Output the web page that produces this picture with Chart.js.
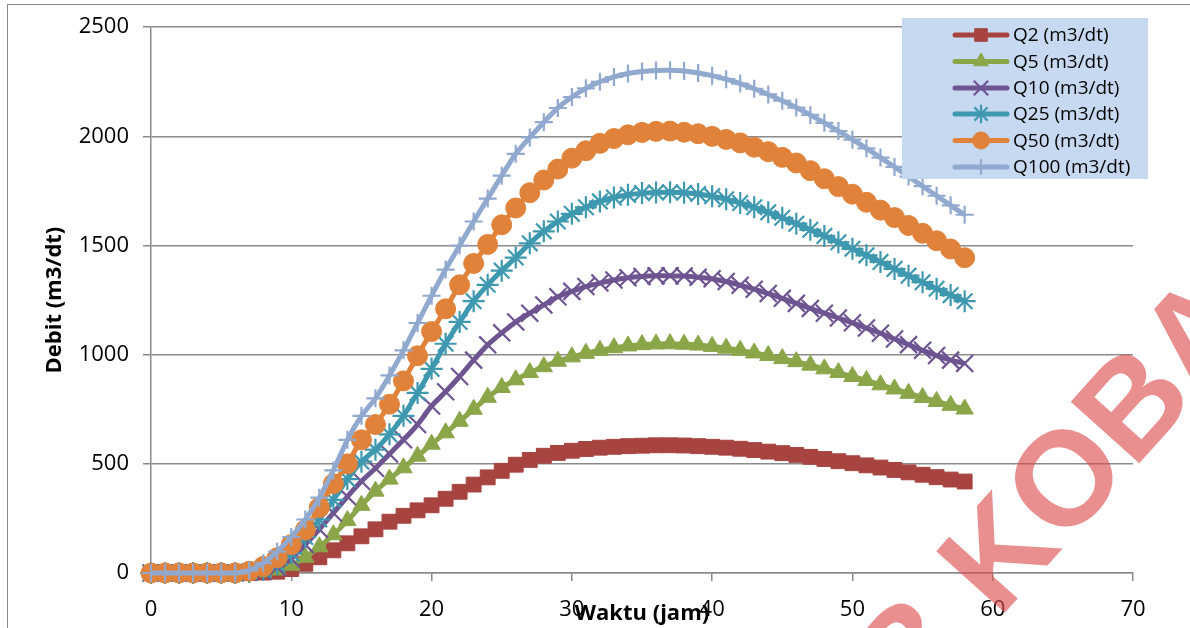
<!DOCTYPE html>
<html>
<head>
<meta charset="utf-8">
<script src="https://cdn.jsdelivr.net/npm/chart.js@4.4.1/dist/chart.umd.min.js"></script>
<style>
  html, body { margin: 0; padding: 0; background: #fff; }
  canvas { display: block; }
</style>
</head>
<body>
<canvas id="grafik" width="1190" height="628"></canvas>
<script>
// Waktu (jam) untuk setiap titik hidrograf
const jam = [0,1,2,3,4,5,6,7,8,9,10,11,12,13,14,15,16,17,18,19,20,21,22,23,24,25,26,27,28,29,
  30,31,32,33,34,35,36,37,38,39,40,41,42,43,44,45,46,47,48,49,50,51,52,53,54,55,56,57,58];

// Debit (m3/dt) per kala ulang
const q2 = [0,0,0,0,0,0,0,0,2,6,18,42,72,104,136,168,200,235,262,287,310,340,372,405,438,468,496,518,537,550,
  560,568,574,578,581,583,585,585,584,581,578,574,569,563,556,549,541,532,522,512,503,493,483,472,461,450,439,428,419];
const q5 = [0,0,0,0,0,0,0,0,5,14,35,72,120,175,240,310,375,430,482,535,590,642,695,750,805,850,885,918,945,970,
  990,1006,1020,1032,1040,1046,1049,1050,1048,1044,1038,1030,1020,1008,996,982,968,952,935,918,900,882,862,843,823,804,786,768,751];
const q10 = [0,0,0,0,0,0,0,3,8,25,65,130,200,275,350,420,480,545,610,680,765,830,900,975,1045,1100,1150,1190,1228,1265,
  1290,1312,1328,1342,1352,1358,1361,1362,1360,1355,1348,1335,1318,1300,1280,1258,1235,1212,1190,1168,1146,1122,1098,1072,1046,1020,996,975,960];
const q25 = [0,0,0,0,0,0,0,5,15,40,90,165,245,335,430,510,565,635,720,825,935,1050,1150,1245,1320,1385,1445,1510,1565,1610,
  1645,1675,1702,1720,1732,1740,1743,1744,1742,1736,1726,1712,1695,1675,1652,1627,1600,1572,1544,1515,1485,1455,1425,1393,1362,1332,1302,1273,1245];
const q50 = [0,0,0,0,0,0,0,8,30,70,130,197,300,409,500,610,680,773,880,995,1106,1210,1320,1418,1505,1595,1672,1742,1800,1850,
  1900,1934,1968,1990,2007,2018,2023,2024,2019,2012,2000,1986,1970,1950,1930,1904,1878,1843,1806,1770,1735,1698,1662,1628,1592,1556,1522,1484,1444];
const q100 = [0,0,0,0,0,0,0,12,45,98,165,245,345,470,610,720,800,905,1020,1145,1270,1390,1500,1610,1715,1820,1920,1995,2065,2130,
  2180,2220,2250,2272,2288,2297,2302,2303,2299,2290,2278,2262,2242,2218,2192,2163,2132,2098,2062,2024,1985,1945,1903,1860,1816,1772,1728,1684,1641];

const namaSeri = ['Q2 (m3/dt)', 'Q5 (m3/dt)', 'Q10 (m3/dt)', 'Q25 (m3/dt)', 'Q50 (m3/dt)', 'Q100 (m3/dt)'];
const tickX = [0, 10, 20, 30, 40, 50, 60, 70];
const tickY = [0, 500, 1000, 1500, 2000, 2500];

const warna = ['#A74440', '#8AA649', '#6E5491', '#3E98B0', '#E08239', '#91A9CF'];
const gayaTitik = [
  { style: 'rect', r: 10.5, bw: 1 },
  { style: 'triangle', r: 10, bw: 1 },
  { style: 'crossRot', r: 12, bw: 2.2 },
  { style: 'star', r: 11, bw: 2.2 },
  { style: 'circle', r: 10, bw: 1 },
  { style: 'cross', r: 9, bw: 2.2 }
];

const semuaSeri = [q2, q5, q10, q25, q50, q100];
const FONT = "'Open Sans', sans-serif";
const abu = '#8a8a8a';

function titikDari(nilai) {
  return jam.map((t, i) => ({ x: t, y: nilai[i] }));
}

const datasets = semuaSeri.map((nilai, i) => ({
  label: namaSeri[i],
  data: titikDari(nilai),
  borderColor: warna[i],
  backgroundColor: warna[i],
  pointBackgroundColor: warna[i],
  pointBorderColor: warna[i],
  pointStyle: gayaTitik[i].style,
  pointRadius: gayaTitik[i].r,
  pointBorderWidth: gayaTitik[i].bw,
  borderWidth: 5,
  tension: 0.2,
  fill: false,
  clip: false,
  order: semuaSeri.length - i   // Q100 digambar paling atas
}));

// Plugin untuk bingkai, judul sumbu, legenda dan tanda air
const pluginHiasan = {
  id: 'hiasan',
  beforeDraw(chart) {
    const c = chart.ctx;
    c.save();
    c.strokeStyle = abu;
    c.lineWidth = 1;
    c.strokeRect(7.5, 4.5, 1400, 800);
    c.restore();
  },
  afterDraw(chart) {
    const c = chart.ctx;
    const area = chart.chartArea;
    c.save();

    // Judul sumbu
    c.fillStyle = '#000';
    c.font = 'bold 22px ' + FONT;
    c.textAlign = 'center';
    c.textBaseline = 'alphabetic';
    c.fillText('Waktu (jam)', (area.left + area.right) / 2, 620);

    c.save();
    c.translate(61, (area.top + area.bottom) / 2);
    c.rotate(-Math.PI / 2);
    c.fillText('Debit (m3/dt)', 0, 0);
    c.restore();

    // Legenda
    c.fillStyle = '#C6D9F1';
    c.fillRect(902, 18, 246, 161);
    const barisY = [35, 61.5, 88, 114, 140.5, 167];
    namaSeri.forEach((nama, i) => {
      const y = barisY[i];
      c.strokeStyle = warna[i];
      c.lineWidth = 5;
      c.lineCap = 'round';
      c.beginPath();
      c.moveTo(955, y);
      c.lineTo(1007, y);
      c.stroke();
      c.lineCap = 'butt';
      const g = gayaTitik[i];
      c.fillStyle = warna[i];
      c.strokeStyle = warna[i];
      c.lineWidth = g.bw;
      if (Chart.helpers && Chart.helpers.drawPoint) {
        Chart.helpers.drawPoint(c, { pointStyle: g.style, radius: g.r * 0.85, rotation: 0, borderWidth: g.bw }, 981, y);
      }
      c.fillStyle = '#000';
      c.font = '19px ' + FONT;
      c.textAlign = 'left';
      c.textBaseline = 'middle';
      c.fillText(nama, 1013, y + 1);
    });

    // Tanda air
    c.translate(909, 719);
    c.rotate(-48 * Math.PI / 180);
    c.font = "bold 134px 'Liberation Sans', sans-serif";
    c.fillStyle = 'rgba(221, 75, 75, 0.62)';
    c.textAlign = 'left';
    c.textBaseline = 'alphabetic';
    c.fillText('B KOBA', 0, 0);
    c.restore();
  }
};

new Chart(document.getElementById('grafik'), {
  type: 'line',
  data: { datasets: datasets },
  options: {
    responsive: false,
    animation: false,
    devicePixelRatio: 1,
    layout: { padding: { top: 25, right: 57, left: 0, bottom: 0 } },
    plugins: {
      legend: { display: false },
      tooltip: { enabled: false }
    },
    scales: {
      x: {
        type: 'linear',
        min: 0,
        max: 70,
        afterBuildTicks: s => { s.ticks = tickX.map(v => ({ value: v })); },
        afterFit: s => { s.height = 55; },
        ticks: { color: '#000', font: { family: FONT, size: 22 }, padding: 16, maxRotation: 0, callback: v => String(v) },
        grid: { drawOnChartArea: false, tickLength: 8, color: abu, lineWidth: 1.5 },
        border: { color: abu, width: 1.5 }
      },
      y: {
        min: 0,
        max: 2500,
        afterBuildTicks: s => { s.ticks = tickY.map(v => ({ value: v })); },
        afterFit: s => { s.width = 151; },
        ticks: { color: '#000', font: { family: FONT, size: 22 }, padding: 14, callback: v => String(v) },
        grid: { tickLength: 8, color: abu, lineWidth: 1.5 },
        border: { color: abu, width: 1.5 }
      }
    }
  },
  plugins: [pluginHiasan]
});
</script>
</body>
</html>
